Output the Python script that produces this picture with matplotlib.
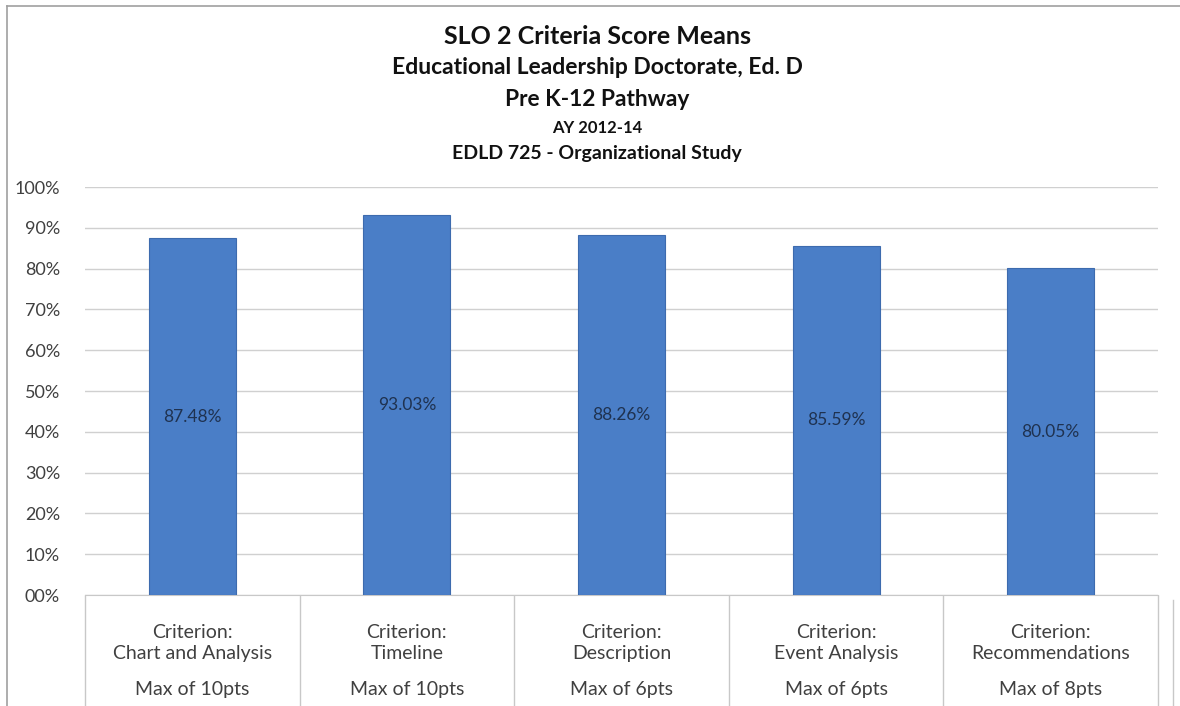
import matplotlib.pyplot as plt
from matplotlib.lines import Line2D
import numpy as np

# data
criteria = ["Chart and Analysis", "Timeline", "Description", "Event Analysis", "Recommendations"]
max_pts = ["Max of 10pts", "Max of 10pts", "Max of 6pts", "Max of 6pts", "Max of 8pts"]
means = [87.48, 93.03, 88.26, 85.59, 80.05]
yticks = [0, 10, 20, 30, 40, 50, 60, 70, 80, 90, 100]
titles = ["SLO 2 Criteria Score Means",
          "Educational Leadership Doctorate, Ed. D",
          "Pre K-12 Pathway",
          "AY 2012-14",
          "EDLD 725 - Organizational Study"]

plt.rcParams['font.family'] = ['Lato', 'DejaVu Sans']

fig = plt.figure(figsize=(11.8, 7.06), dpi=100)
ax = fig.add_axes([85/1180, 1 - 595/706, (1158 - 85)/1180, (595 - 187)/706])

x = np.arange(len(criteria))
bars = ax.bar(x, means, width=0.405, color='#4A7EC7', edgecolor='#3D6BAE', linewidth=0.8, zorder=3)

# value labels in the middle of each bar
for xi, v in zip(x, means):
    ax.text(xi, v / 2, f"{v:.2f}%", ha='center', va='center', fontsize=12.5,
            color='#1F3250', zorder=4)

ax.set_xlim(-0.5, len(criteria) - 0.5)
ax.set_ylim(0, 100)
ax.set_yticks(yticks)
ax.set_yticklabels([f"{t:02d}%" for t in yticks], fontsize=13, color='#404040')
ax.tick_params(axis='y', length=0, pad=18)
ax.yaxis.grid(True, color='#d0d0d0', linewidth=1.0, zorder=0)

# category axis: separators + two-part labels
ax.set_xticks([])
ax.set_xticks(np.arange(-0.5, len(criteria)), minor=True)
ax.tick_params(axis='x', which='minor', length=80, color='#c8c8c8', width=1.0, direction='out')
for xi, name, mx in zip(x, criteria, max_pts):
    ax.annotate(f"Criterion:\n{name}", xy=(xi, 0), xycoords=('data', 'axes fraction'),
                xytext=(0, -48), textcoords='offset pixels', ha='center', va='center',
                fontsize=14, color='#404040', linespacing=1.25)
    ax.annotate(mx, xy=(xi, 0), xycoords=('data', 'axes fraction'),
                xytext=(0, -95), textcoords='offset pixels', ha='center', va='center',
                fontsize=14, color='#404040')

for s in ['top', 'right', 'left']:
    ax.spines[s].set_visible(False)
ax.spines['bottom'].set_color('#c8c8c8')

# titles
title_y = [37, 68, 100, 128, 154]
title_sz = [18, 16.5, 16.4, 12, 14]
for t, yy, sz in zip(titles, title_y, title_sz):
    fig.text(597/1180, 1 - yy/706, t, ha='center', va='center', fontsize=sz,
             fontweight='bold', color='#111111')

# chart frame
fig.add_artist(Line2D([7/1180, 1], [1 - 6/706, 1 - 6/706], color='#a0a0a0', linewidth=1.2))
fig.add_artist(Line2D([7/1180, 7/1180], [0, 1 - 6/706], color='#a0a0a0', linewidth=1.2))
fig.add_artist(Line2D([1173/1180, 1173/1180], [0, 1 - 600/706], color='#c8c8c8', linewidth=1.0))

fig.savefig('out.png', dpi=100, facecolor='white')
